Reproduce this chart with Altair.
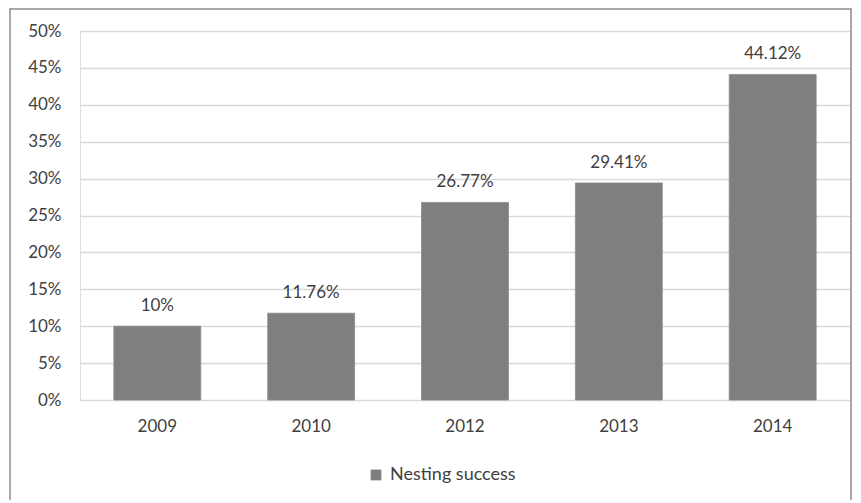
import altair as alt
import pandas as pd

years = ["2009", "2010", "2012", "2013", "2014"]
values = [0.10, 0.1176, 0.2677, 0.2941, 0.4412]
labels = ["10%", "11.76%", "26.77%", "29.41%", "44.12%"]
series_name = "Nesting success"
y_ticks = [0, 0.05, 0.10, 0.15, 0.20, 0.25, 0.30, 0.35, 0.40, 0.45, 0.50]

df = pd.DataFrame({"year": years, "value": values, "label": labels, "series": series_name})

FONT = "Lato"
TXT = "#404040"

x_enc = alt.X("year:N", sort=years, title=None,
              scale=alt.Scale(paddingInner=0.435, paddingOuter=0.22),
              axis=alt.Axis(labelAngle=0, ticks=False, domain=False, labelPadding=18,
                            labelFont=FONT, labelFontSize=17, labelColor=TXT))
y_enc = alt.Y("value:Q", title=None,
              scale=alt.Scale(domain=[0, 0.5], nice=False),
              axis=alt.Axis(values=y_ticks, format=".0%", ticks=False, domain=False,
                            labelOverlap=False, labelPadding=19,
                            gridColor="#d9d9d9", gridWidth=1.5,
                            labelFont=FONT, labelFontSize=17, labelColor=TXT))

base = alt.Chart(df)

border = base.mark_rect(filled=False, stroke="#8c8c8c", strokeWidth=1.5, clip=False).encode(
    x=alt.value(-70), x2=alt.value(771), y=alt.value(-22), y2=alt.value(471)
).transform_filter(alt.datum.year == "2009")

bars = base.mark_bar(color="#7f7f7f", stroke="#8a8a8a", strokeWidth=0.8).encode(
    x=x_enc, y=y_enc,
    fill=alt.Fill("series:N", scale=alt.Scale(range=["#7f7f7f"]),
                  legend=alt.Legend(title=None, orient="none", legendX=287, legendY=435,
                                    symbolType="square", symbolSize=115,
                                    symbolStrokeWidth=0, labelFont=FONT,
                                    labelFontSize=18, labelColor=TXT, labelOffset=5)),
)

text = base.mark_text(baseline="bottom", dy=-11, font=FONT, fontSize=17, color=TXT).encode(
    x=x_enc, y=y_enc, text="label:N"
)

chart = alt.layer(border, bars, text).properties(
    width=770, height=369,
    autosize=alt.AutoSizeParams(type="none"),
    padding={"left": 72, "top": 23, "right": 3, "bottom": 100},
).configure_view(stroke=None).configure(background="white")

chart.save("out.html", embed_options={"renderer": "svg", "actions": False})
